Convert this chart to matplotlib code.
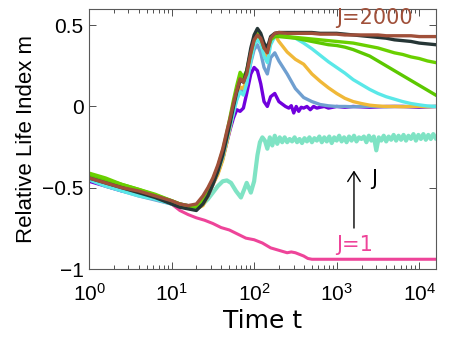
import numpy as np
import matplotlib
matplotlib.use("Agg")
import matplotlib.pyplot as plt

plt.rcParams.update({"font.family": "Liberation Sans", "axes.unicode_minus": True})

# ---- data (t on log axis) ----
log_t = np.array([0, 0.2, 0.4, 0.6, 0.8, 1.0, 1.1, 1.2, 1.3,
                  1.38, 1.44, 1.5, 1.56, 1.62, 1.67, 1.71, 1.75, 1.79, 1.83, 1.87,
                  1.91, 1.96, 2.0, 2.04, 2.08, 2.12, 2.16, 2.2, 2.25, 2.3,
                  2.4, 2.5, 2.6, 2.7, 2.8, 2.9, 3.0, 3.1, 3.2, 3.3,
                  3.4, 3.5, 3.6, 3.7, 3.8, 3.9, 4.0, 4.1, 4.2])

m_brown = [-0.44, -0.47, -0.50, -0.52, -0.55, -0.58, -0.60, -0.61, -0.60,
           -0.55, -0.50, -0.44, -0.36, -0.26, -0.15, -0.07, 0.02, 0.10, 0.17, 0.15,
           0.20, 0.33, 0.41, 0.44, 0.42, 0.36, 0.33, 0.42, 0.45, 0.455,
           0.45, 0.45, 0.45, 0.45, 0.445, 0.445, 0.445, 0.44, 0.44, 0.44,
           0.44, 0.44, 0.435, 0.435, 0.435, 0.435, 0.43, 0.43, 0.43]
m_dark = [-0.44, -0.47, -0.50, -0.53, -0.56, -0.60, -0.62, -0.63, -0.64,
          -0.60, -0.55, -0.48, -0.40, -0.30, -0.19, -0.10, 0.0, 0.09, 0.16, 0.15,
          0.22, 0.36, 0.44, 0.48, 0.45, 0.39, 0.36, 0.43, 0.45, 0.455,
          0.455, 0.455, 0.455, 0.455, 0.45, 0.45, 0.45, 0.445, 0.44, 0.435,
          0.43, 0.425, 0.42, 0.41, 0.405, 0.40, 0.39, 0.385, 0.38]
m_green_hi = [-0.41, -0.44, -0.48, -0.51, -0.54, -0.58, -0.60, -0.61, -0.61,
              -0.57, -0.51, -0.45, -0.37, -0.27, -0.16, -0.06, 0.04, 0.13, 0.21, 0.18,
              0.22, 0.34, 0.42, 0.45, 0.43, 0.37, 0.35, 0.42, 0.44, 0.44,
              0.43, 0.425, 0.42, 0.415, 0.41, 0.405, 0.40, 0.395, 0.39, 0.38,
              0.37, 0.36, 0.345, 0.33, 0.32, 0.305, 0.295, 0.28, 0.27]
m_green_lo = [-0.42, -0.45, -0.48, -0.51, -0.545, -0.58, -0.60, -0.615, -0.62,
              -0.58, -0.52, -0.46, -0.38, -0.28, -0.17, -0.08, 0.02, 0.11, 0.19, 0.16,
              0.21, 0.33, 0.41, 0.44, 0.42, 0.36, 0.34, 0.41, 0.43, 0.43,
              0.425, 0.42, 0.41, 0.40, 0.39, 0.38, 0.375, 0.365, 0.35, 0.33,
              0.31, 0.28, 0.25, 0.22, 0.19, 0.16, 0.13, 0.10, 0.07]
m_cyan = [-0.45, -0.49, -0.52, -0.55, -0.57, -0.60, -0.61, -0.62, -0.62,
          -0.59, -0.53, -0.47, -0.40, -0.31, -0.20, -0.12, -0.04, 0.04, 0.09, 0.07,
          0.14, 0.28, 0.38, 0.41, 0.39, 0.31, 0.27, 0.38, 0.43, 0.44,
          0.43, 0.42, 0.39, 0.355, 0.315, 0.275, 0.24, 0.205, 0.165, 0.135,
          0.105, 0.08, 0.06, 0.045, 0.03, 0.018, 0.01, 0.003, 0.0]
m_orange = [-0.44, -0.47, -0.50, -0.53, -0.56, -0.595, -0.61, -0.62, -0.63,
            -0.61, -0.55, -0.48, -0.42, -0.33, -0.22, -0.13, -0.03, 0.06, 0.12, 0.11,
            0.18, 0.31, 0.39, 0.42, 0.40, 0.34, 0.30, 0.41, 0.44, 0.40,
            0.335, 0.29, 0.26, 0.20, 0.155, 0.115, 0.08, 0.05, 0.03, 0.018,
            0.008, 0.003, 0.0, 0.0, -0.002, 0.0, 0.0, -0.002, 0.0]
m_steel = [-0.45, -0.49, -0.52, -0.55, -0.575, -0.60, -0.615, -0.625, -0.63,
           -0.60, -0.54, -0.47, -0.41, -0.32, -0.21, -0.12, -0.03, 0.05, 0.10, 0.09,
           0.15, 0.27, 0.35, 0.38, 0.33, 0.24, 0.20, 0.30, 0.33, 0.28,
           0.20, 0.11, 0.055, 0.03, 0.012, 0.004, 0.0, 0.0, -0.002, 0.0,
           0.0, 0.0, -0.002, 0.0, 0.0, 0.0, 0.0, 0.0, 0.0]

log_t_purple = np.concatenate([log_t[:30],
                               [2.34, 2.38, 2.42, 2.45, 2.48, 2.51, 2.54, 2.57, 2.6, 2.64,
                                2.68, 2.72, 2.76, 2.8, 2.85, 2.9, 3.0, 3.1, 3.2, 3.4,
                                3.6, 3.8, 4.0, 4.2]])
m_purple = [-0.46, -0.49, -0.52, -0.54, -0.56, -0.59, -0.60, -0.61, -0.62,
            -0.60, -0.55, -0.48, -0.41, -0.32, -0.22, -0.14, -0.07, -0.02, -0.03, -0.01,
            0.08, 0.20, 0.24, 0.22, 0.14, 0.03, 0.0, 0.06, 0.08, 0.03,
            0.015, 0.0, -0.01, 0.005, -0.04, 0.0, -0.03, -0.005, -0.01, 0.0,
            -0.02, 0.0, -0.01, -0.005, 0.0, -0.01, 0.0, -0.005, 0.0, -0.005,
            0.0, 0.0, -0.005, 0.0]

log_t_pink = np.array([0, 0.2, 0.4, 0.6, 0.8, 1.0, 1.1, 1.2, 1.3, 1.4, 1.5, 1.6, 1.7,
                       1.8, 1.9, 2.0, 2.1, 2.2, 2.3, 2.4, 2.45, 2.5, 2.55, 2.6, 2.65,
                       2.7, 3.0, 3.5, 4.2])
m_pink = [-0.45, -0.48, -0.51, -0.53, -0.56, -0.60, -0.64, -0.665, -0.685, -0.70,
          -0.72, -0.745, -0.76, -0.785, -0.81, -0.82, -0.84, -0.87, -0.885, -0.90,
          -0.895, -0.90, -0.91, -0.92, -0.935, -0.94, -0.94, -0.94, -0.94]

log_t_aqua = np.concatenate([[0, 0.2, 0.4, 0.6, 0.8, 1.0, 1.1, 1.2, 1.3, 1.38, 1.44, 1.5,
                              1.56, 1.62, 1.67, 1.72, 1.78, 1.84, 1.88, 1.91, 1.96, 2.0,
                              2.04, 2.07],
                             np.linspace(2.10, 4.20, 71)])
m_aqua = [-0.45, -0.48, -0.51, -0.53, -0.56, -0.59, -0.61, -0.62, -0.62, -0.60,
          -0.57, -0.53, -0.49, -0.46, -0.455, -0.47, -0.52, -0.56, -0.51, -0.47,
          -0.53, -0.46, -0.30, -0.22,
          -0.19, -0.21, -0.26, -0.19, -0.24, -0.18, -0.23, -0.19, -0.22, -0.19,
          -0.22, -0.20, -0.215, -0.19, -0.22, -0.20, -0.225, -0.195, -0.215, -0.19,
          -0.22, -0.195, -0.21, -0.185, -0.22, -0.19, -0.215, -0.185, -0.225, -0.19,
          -0.21, -0.18, -0.215, -0.19, -0.22, -0.185, -0.21, -0.18, -0.215, -0.19,
          -0.20, -0.185, -0.22, -0.18, -0.21, -0.185, -0.27, -0.19, -0.21, -0.18,
          -0.215, -0.185, -0.205, -0.175, -0.21, -0.18, -0.205, -0.175, -0.21, -0.18,
          -0.20, -0.17, -0.21, -0.175, -0.20, -0.17, -0.205, -0.175, -0.20, -0.17,
          -0.195]

# plotting order follows J (J=1 first, J=2000 last / on top)
series = [
    (log_t_pink, m_pink, "#ee4499", 2.2),
    (log_t_aqua, m_aqua, "#7fe3c4", 3.0),
    (log_t_purple, m_purple, "#7000dd", 2.4),
    (log_t, m_steel, "#6f9fd0", 2.4),
    (log_t, m_orange, "#f0b838", 2.4),
    (log_t, m_cyan, "#5ae8e8", 2.4),
    (log_t, m_green_lo, "#5cc800", 2.4),
    (log_t, m_green_hi, "#6ad000", 2.4),
    (log_t, m_dark, "#263636", 2.4),
    (log_t, m_brown, "#a0503a", 2.4),
]

fig = plt.figure(figsize=(4.52, 3.44), dpi=100)
ax = fig.add_axes([0.197, 0.218, 0.767, 0.756])

for lt, m, c, lw in series:
    ax.plot(10 ** np.asarray(lt), m, color=c, lw=lw, solid_joinstyle="round")

ax.set_xscale("log")
ax.set_xlim(1, 10 ** 4.2)
ax.set_ylim(-1, 0.6)
ax.set_xticks([1, 10, 100, 1000, 10000])
ax.set_yticks([-1, -0.5, 0, 0.5])
ax.set_yticklabels(["\u22121", "\u22120.5", "0", "0.5"])
ax.tick_params(which="both", direction="in", top=True, right=True, labelsize=15,
               width=0.6, color="0.2", pad=4)
ax.tick_params(axis="x", which="both", pad=10)
ax.tick_params(which="major", length=5)
ax.tick_params(which="minor", length=3)
for s in ax.spines.values():
    s.set_color("0.35")
    s.set_linewidth(0.8)

ax.set_xlabel("Time t", fontsize=18, family="DejaVu Sans", labelpad=3)
ax.set_ylabel("Relative Life Index m", fontsize=16, labelpad=4)

ax.text(2900, 0.543, "J=2000", color="#a0503a", fontsize=15, family="DejaVu Sans",
        ha="center", va="center")
ax.text(1660, -0.85, "J=1", color="#ee4499", fontsize=15, family="DejaVu Sans",
        ha="center", va="center")
ax.text(2650, -0.444, "J", color="black", fontsize=15, family="DejaVu Sans",
        ha="left", va="center")
ax.annotate("", xy=(1620, -0.377), xytext=(1620, -0.765),
            arrowprops=dict(arrowstyle="->,head_width=0.45,head_length=0.7",
                            color="black", lw=1.0))

fig.savefig("out.png", dpi=100)
